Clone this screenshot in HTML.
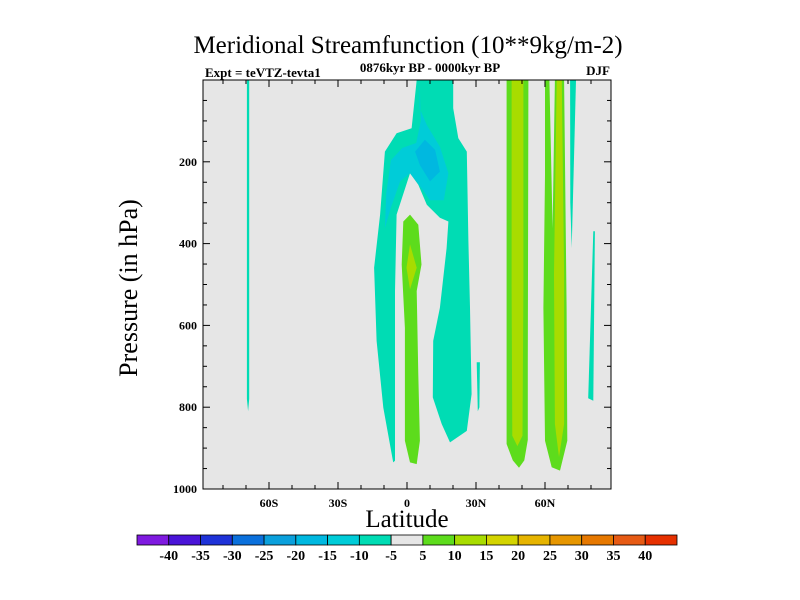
<!DOCTYPE html>
<html><head><meta charset="utf-8"><style>
body{margin:0;background:#fff;}
svg{display:block;font-family:"Liberation Serif",serif;}
</style></head><body>
<svg id="chart" width="800" height="600" viewBox="0 0 800 600">
<text x="408" y="53" font-size="25" text-anchor="middle">Meridional Streamfunction (10**9kg/m-2)</text>
<text x="205" y="77" font-size="13" font-weight="bold">Expt = teVTZ-tevta1</text>
<text x="430" y="72" font-size="13" font-weight="bold" text-anchor="middle">0876kyr BP - 0000kyr BP</text>
<text x="610" y="75" font-size="13" font-weight="bold" text-anchor="end">DJF</text>
<rect x="203" y="80" width="408" height="409" fill="#e6e6e6"/>
<g id="contours"></g>
<g id="axes"></g>
<text x="407" y="527" font-size="25" text-anchor="middle">Latitude</text>
<text transform="translate(137,288) rotate(-90)" font-size="26" text-anchor="middle">Pressure (in hPa)</text>
<g id="colorbar"></g>
</svg>
<script>
const levelColors=['#7f1ae0','#4a14d8','#1e32d8','#0a70dc','#0aa0dc','#00b8e0','#00ccd8','#00dcb4','#e6e6e6','#5ddc1c','#a8dc00','#d4d400','#e6b400','#e69600','#e67800','#e65a14','#e63000'];
const levelLabels=['-40','-35','-30','-25','-20','-15','-10','-5','5','10','15','20','25','30','35','40'];
const xTickValues=[-60,-30,0,30,60];
const xTickLabels=['60S','30S','0','30N','60N'];
const yTickValues=[200,400,600,800,1000];
const contourLevels=[7,7,6,5,9,10,9,10,9,10,7,7,7];
const contourShapes=[
 [[-69.6,0],[-68.6,0],[-68.6,780],[-69.1,810],[-69.6,780]],
 [[4.2,0],[2,118],[-4.5,130],[-9.6,175],[-11.7,329],[-14.3,459],[-13.2,638],[-10.3,801],[-6,935],[-5.2,931],[-5.2,516],[-4.5,329],[1.3,228],[4.9,256],[8.6,305],[14.3,337],[18,346],[17.2,411],[14.3,557],[11.4,638],[11.2,776],[15.1,841],[18.7,886],[26,858],[28.1,768],[27.4,557],[26.7,394],[26,175],[22.3,142],[20.1,69],[20.1,0]],
 [[5.5,0],[5.5,69],[8.6,110],[14.3,163],[18,228],[16,294],[10,294],[6,262],[1.3,228],[-3,248],[-7,312],[-9.6,362],[-9,276],[-7,196],[-2,166],[4,154],[6,100]],
 [[3.5,175],[7.8,146],[12.2,171],[14.3,224],[10,248],[5.6,208]],
 [[1.3,329],[-1.6,346],[-2.3,451],[-0.9,606],[-0.9,882],[1.3,935],[4.2,939],[5.6,882],[4.9,720],[4.2,516],[6.3,451],[4.9,354]],
 [[1.3,402],[-0.2,459],[1.3,512],[4.2,459]],
 [[43.3,0],[52.8,0],[52.5,700],[52.5,880],[51,930],[48.7,948],[46,930],[43.3,890],[43.3,400]],
 [[45.5,0],[50.6,0],[50.6,500],[50.2,870],[48,895],[45.8,870],[45.5,500]],
 [[60,0],[61.9,0],[63.3,362],[64.3,0],[68.3,0],[69.4,557],[69.7,882],[66.5,955],[62.9,947],[60,882],[59.3,557],[60,232]],
 [[65.1,0],[67.3,0],[68.3,475],[68.3,841],[66.1,922],[64.3,841],[63.9,475]],
 [[70.9,0],[73.5,0],[71.6,411],[71,300]],
 [[81,370],[81.7,370],[81,784],[78.8,778]],
 [[30.3,690],[31.7,690],[31.5,800],[30.8,810]]
];
const NS='http://www.w3.org/2000/svg';
const X0=203,X1=611,Y0=80,Y1=489;
function xs(lat){return 407+lat*2.3;}
function ys(p){return Y0+p*(Y1-Y0)/1000;}
function mk(tag,attrs,parent){const e=document.createElementNS(NS,tag);for(const k in attrs)e.setAttribute(k,attrs[k]);parent.appendChild(e);return e;}
const cg=document.getElementById('contours');
contourShapes.forEach((poly,i)=>{
 const pts=poly.map(q=>xs(q[0]).toFixed(1)+','+ys(q[1]).toFixed(1)).join(' ');
 const el=mk('polygon',{points:pts,fill:levelColors[contourLevels[i]]},cg);
 
 
});
const ax=document.getElementById('axes');
const fr=mk('rect',{x:X0,y:Y0,width:X1-X0,height:Y1-Y0,fill:'none',stroke:'#000','stroke-width':1},ax);


for(let lat=-80;lat<=80;lat+=10){
 const major=lat%30===0;const L=major?7:4;const x=xs(lat);
 mk('line',{x1:x,x2:x,y1:Y1,y2:Y1-L,stroke:'#000'},ax);
 mk('line',{x1:x,x2:x,y1:Y0,y2:Y0+L,stroke:'#000'},ax);
}
xTickValues.forEach((v,i)=>{
 const t=mk('text',{x:xs(v),y:Y1+18,'font-size':12,'font-weight':'bold','text-anchor':'middle'},ax);
 t.textContent=xTickLabels[i];
 
 
});
for(let p=50;p<1000;p+=50){
 const major=p%200===0;const L=major?7:4;const y=ys(p);
 mk('line',{x1:X0,x2:X0+L,y1:y,y2:y,stroke:'#000'},ax);
 mk('line',{x1:X1,x2:X1-L,y1:y,y2:y,stroke:'#000'},ax);
}
yTickValues.forEach(v=>{
 const t=mk('text',{x:X0-6,y:ys(v)+4,'font-size':12,'font-weight':'bold','text-anchor':'end'},ax);
 t.textContent=String(v);
 
 
});
const cb=document.getElementById('colorbar');
const bx=137,bw=540/levelColors.length,by=535,bh=10;
levelColors.forEach((c,i)=>{
 const r=mk('rect',{x:bx+i*bw,y:by,width:bw,height:bh,fill:c,stroke:'#000','stroke-width':0.8},cb);
 
 
});
levelLabels.forEach((l,i)=>{
 const t=mk('text',{x:bx+(i+1)*bw,y:560,'font-size':14,'font-weight':'bold','text-anchor':'middle'},cb);
 t.textContent=l;
 
 
});
</script>
</body></html>
